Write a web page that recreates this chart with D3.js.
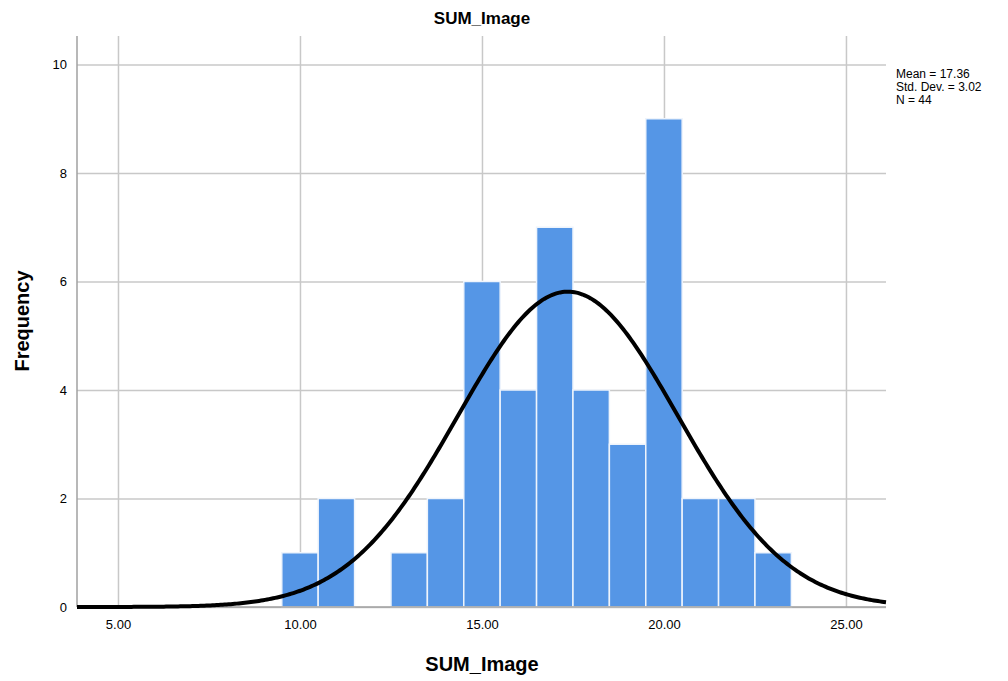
<!DOCTYPE html>
<html>
  <head>
    <meta charset="utf-8">
    <script src="https://d3js.org/d3.v7.min.js"></script>
    <title>SUM_Image</title>
    <style>
      body { margin: 0px; background: #fff; }
      text { font-family: 'Liberation Sans', Arial, sans-serif; fill: #000; }
      .tick text { font-size: 13px; }
      .domain { display: none; }
      .tick line { stroke: #c8c8c8; stroke-width: 1.5px; }
    </style>
  </head>
  <body>
    <svg width="1008" height="681"></svg>
    <script>
      // bin centres and counts
      const binCenters = [10, 11, 12, 13, 14, 15, 16, 17, 18, 19, 20, 21, 22, 23];
      const counts = [1, 2, 0, 1, 2, 6, 4, 7, 4, 3, 9, 2, 2, 1];
      const xTicks = [5, 10, 15, 20, 25];
      const yTicks = [0, 2, 4, 6, 8, 10];
      const mean = 17.36;
      const stdDev = 3.02;
      const n = 44;
      const binWidth = 1;

      const svg = d3.select('svg');
      const plot = { left: 77, right: 886, top: 36, bottom: 607 };

      const x = d3.scaleLinear().domain([3.874, 26.1]).range([plot.left, plot.right]);
      const y = d3.scaleLinear().domain([0, 10]).range([plot.bottom, 64.5]);

      // gridlines
      svg.append('g')
          .attr('transform', `translate(0,${plot.bottom})`)
          .call(d3.axisBottom(x).tickValues(xTicks).tickFormat(d3.format('.2f'))
            .tickSize(-(plot.bottom - plot.top)).tickPadding(10))
          .call(g => g.selectAll('.tick text').attr('dy', '0.9em'));

      svg.append('g')
          .attr('transform', `translate(${plot.left},0)`)
          .call(d3.axisLeft(y).tickValues(yTicks).tickSize(-(plot.right - plot.left)).tickPadding(10));

      // bars
      svg.append('g').selectAll('rect').data(binCenters)
        .enter().append('rect')
          .attr('x', d => x(d - binWidth / 2))
          .attr('width', d => x(d + binWidth / 2) - x(d - binWidth / 2))
          .attr('y', (d, i) => y(counts[i]))
          .attr('height', (d, i) => y(0) - y(counts[i]))
          .attr('fill', '#5596e6')
          .attr('stroke', '#eef4fc')
          .attr('stroke-width', 1.5);

      // axis lines
      svg.append('line')
          .attr('x1', plot.left).attr('x2', plot.left).attr('y1', plot.top).attr('y2', plot.bottom)
          .attr('stroke', '#a0a0a0').attr('stroke-width', 1.5);
      svg.append('line')
          .attr('x1', plot.left).attr('x2', plot.right).attr('y1', plot.bottom).attr('y2', plot.bottom)
          .attr('stroke', '#a0a0a0').attr('stroke-width', 1.5);

      // fitted normal curve
      const [x0, x1] = x.domain();
      const curveXs = d3.range(0, 401).map(i => x0 + (x1 - x0) * i / 400);
      const normal = v => n * binWidth / (stdDev * Math.sqrt(2 * Math.PI)) *
        Math.exp(-0.5 * Math.pow((v - mean) / stdDev, 2));
      svg.append('path')
          .datum(curveXs)
          .attr('fill', 'none')
          .attr('stroke', '#000')
          .attr('stroke-width', 4)
          .attr('d', d3.line().x(d => x(d)).y(d => y(normal(d))));

      // titles
      svg.append('text')
          .attr('x', 482).attr('y', 24)
          .attr('text-anchor', 'middle')
          .style('font-size', '17px').style('font-weight', 'bold')
          .text('SUM_Image');
      svg.append('text')
          .attr('x', 482).attr('y', 671)
          .attr('text-anchor', 'middle')
          .style('font-size', '20px').style('font-weight', 'bold')
          .text('SUM_Image');
      svg.append('text')
          .attr('transform', 'translate(29,321) rotate(-90)')
          .attr('text-anchor', 'middle')
          .style('font-size', '20px').style('font-weight', 'bold')
          .text('Frequency');

      // stats legend
      const stats = [`Mean = ${mean.toFixed(2)}`, `Std. Dev. = ${stdDev.toFixed(2)}`, `N = ${n}`];
      svg.append('g').selectAll('text').data(stats)
        .enter().append('text')
          .attr('x', 896).attr('y', (d, i) => 78 + i * 13)
          .style('font-size', '12px')
          .text(d => d);
    </script>
  </body>
</html>
